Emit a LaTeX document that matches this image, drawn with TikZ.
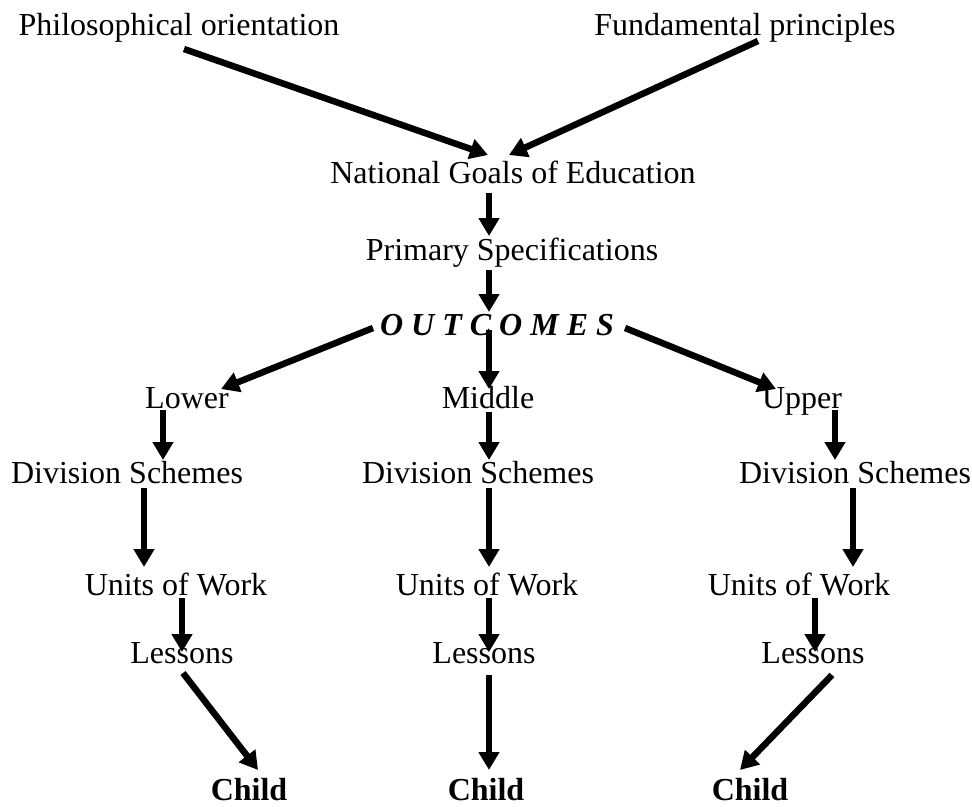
\documentclass[tikz,border=0pt]{standalone}
\usepackage{fontspec}
\setmainfont{Liberation Serif}
\usetikzlibrary{arrows.meta}
\begin{document}
\begin{tikzpicture}[x=1pt,y=-1pt,
  lbl/.style={anchor=base,inner sep=0pt,font=\fontsize{32}{38}\selectfont},
  bl/.style={lbl,font=\fontsize{32}{38}\selectfont\bfseries},
  oc/.style={lbl,font=\fontsize{32}{38}\selectfont\bfseries\itshape},
  arr/.style={line width=6.5pt,-{Triangle[length=18pt,width=20pt]}}]
\useasboundingbox (0,0) rectangle (972,806);
% texts
\node[lbl] (phil) at (179,35) {Philosophical orientation};
\node[lbl] (fund) at (745,35) {Fundamental principles};
\node[lbl] (nge) at (513,183) {National Goals of Education};
\node[lbl] (ps) at (512,260) {Primary Specifications};
\node[oc] (out) at (497,335) {O U T C O M E S};
\node[lbl] (low) at (187,408) {Lower};
\node[lbl] (mid) at (488,408) {Middle};
\node[lbl] (upp) at (802,408) {Upper};
\node[lbl] (dsl) at (127,483) {Division Schemes};
\node[lbl] (dsm) at (478,483) {Division Schemes};
\node[lbl] (dsr) at (855,483) {Division Schemes};
\node[lbl] (uwl) at (176,595) {Units of Work};
\node[lbl] (uwm) at (487,595) {Units of Work};
\node[lbl] (uwr) at (799,595) {Units of Work};
\node[lbl] (lsl) at (182,663) {Lessons};
\node[lbl] (lsm) at (484,663) {Lessons};
\node[lbl] (lsr) at (813,663) {Lessons};
\node[bl] (chl) at (249,800) {Child};
\node[bl] (chm) at (486,800) {Child};
\node[bl] (chr) at (750,800) {Child};
% arrow end points
\coordinate (phil-s) at (184,49);
\coordinate (nge-nl) at (488,155);
\coordinate (fund-s) at (758,41);
\coordinate (nge-nr) at (509,155);
\coordinate (nge-s) at (489,193);
\coordinate (ps-n) at (489,236);
\coordinate (ps-s) at (489,270);
\coordinate (out-n) at (489,312);
\coordinate (out-w) at (373,328);
\coordinate (low-n) at (221,389);
\coordinate (out-s) at (489,330);
\coordinate (mid-n) at (489,389);
\coordinate (out-e) at (625,328);
\coordinate (upp-n) at (776,389);
\coordinate (low-s) at (163,410);
\coordinate (dsl-n) at (163,460);
\coordinate (mid-s) at (489,412);
\coordinate (dsm-n) at (489,460);
\coordinate (upp-s) at (835,410);
\coordinate (dsr-n) at (835,460);
\coordinate (dsl-s) at (144,488);
\coordinate (uwl-n) at (144,567);
\coordinate (dsm-s) at (489,488);
\coordinate (uwm-n) at (489,567);
\coordinate (dsr-s) at (853,488);
\coordinate (uwr-n) at (853,567);
\coordinate (uwl-s) at (182,598);
\coordinate (lsl-n) at (182,652);
\coordinate (uwm-s) at (489,598);
\coordinate (lsm-n) at (489,652);
\coordinate (uwr-s) at (815,598);
\coordinate (lsr-n) at (815,652);
\coordinate (lsl-s) at (183,673);
\coordinate (chl-n) at (258,770);
\coordinate (lsm-s) at (489,675);
\coordinate (chm-n) at (489,770);
\coordinate (lsr-s) at (832,675);
\coordinate (chr-n) at (740,770);
% arrows
\draw[arr] (phil-s) -- (nge-nl);
\draw[arr] (fund-s) -- (nge-nr);
\draw[arr] (nge-s) -- (ps-n);
\draw[arr] (ps-s) -- (out-n);
\draw[arr] (out-w) -- (low-n);
\draw[arr] (out-s) -- (mid-n);
\draw[arr] (out-e) -- (upp-n);
\draw[arr] (low-s) -- (dsl-n);
\draw[arr] (mid-s) -- (dsm-n);
\draw[arr] (upp-s) -- (dsr-n);
\draw[arr] (dsl-s) -- (uwl-n);
\draw[arr] (dsm-s) -- (uwm-n);
\draw[arr] (dsr-s) -- (uwr-n);
\draw[arr] (uwl-s) -- (lsl-n);
\draw[arr] (uwm-s) -- (lsm-n);
\draw[arr] (uwr-s) -- (lsr-n);
\draw[arr] (lsl-s) -- (chl-n);
\draw[arr] (lsm-s) -- (chm-n);
\draw[arr] (lsr-s) -- (chr-n);
\end{tikzpicture}
\end{document}
